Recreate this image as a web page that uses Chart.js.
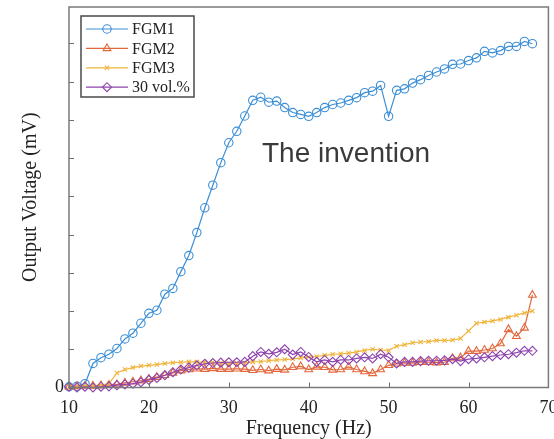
<!DOCTYPE html>
<html>
<head>
<meta charset="utf-8">
<script src="https://cdn.jsdelivr.net/npm/chart.js@4.4.1/dist/chart.umd.min.js"></script>
<style>
  html, body { margin: 0; padding: 0; background: #fff; }
  #wrap { width: 554px; height: 439px; position: relative; }
</style>
</head>
<body>
<div id="wrap"><canvas id="chart"></canvas></div>
<script>
// Frequency (Hz), 1 Hz steps
const freqs = [10,11,12,13,14,15,16,17,18,19,20,21,22,23,24,25,26,27,28,29,30,31,32,33,34,35,36,37,38,39,
               40,41,42,43,44,45,46,47,48,49,50,51,52,53,54,55,56,57,58,59,60,61,62,63,64,65,66,67,68];

// Output voltage (arbitrary units, axis tick = 1)
const fgm1 = [0.02,0.03,0.10,0.63,0.78,0.87,1.02,1.27,1.42,1.68,1.94,2.02,2.44,2.59,3.03,3.45,4.05,4.70,5.29,5.88,
              6.40,6.70,7.10,7.51,7.59,7.46,7.49,7.32,7.19,7.14,7.09,7.19,7.32,7.40,7.44,7.51,7.58,7.71,7.75,7.90,
              7.09,7.77,7.81,7.96,8.05,8.16,8.25,8.33,8.45,8.46,8.55,8.62,8.79,8.75,8.81,8.92,8.92,9.05,8.99];
const fgm2 = [0.02,0.03,0.04,0.04,0.05,0.06,0.08,0.12,0.15,0.18,0.22,0.27,0.32,0.38,0.44,0.47,0.49,0.48,0.50,0.48,
              0.48,0.49,0.48,0.45,0.47,0.44,0.48,0.46,0.53,0.55,0.47,0.54,0.53,0.46,0.47,0.54,0.47,0.42,0.37,0.47,
              0.58,0.62,0.64,0.64,0.66,0.66,0.65,0.66,0.76,0.78,0.95,0.95,0.98,1.02,1.15,1.52,1.34,1.56,2.42];
const fgm3 = [0.02,0.03,0.04,0.05,0.06,0.10,0.38,0.47,0.52,0.56,0.58,0.60,0.63,0.65,0.66,0.67,0.67,0.66,0.66,0.64,
              0.63,0.64,0.65,0.67,0.68,0.70,0.72,0.73,0.75,0.77,0.80,0.81,0.84,0.87,0.88,0.90,0.93,0.97,1.00,0.98,
              0.97,1.08,1.12,1.17,1.19,1.20,1.23,1.23,1.24,1.28,1.48,1.68,1.71,1.74,1.78,1.84,1.89,1.95,2.00];
const vol30 = [0.02,0.00,0.02,0.00,0.02,0.03,0.06,0.08,0.10,0.14,0.20,0.25,0.32,0.40,0.47,0.52,0.58,0.62,0.64,0.65,
               0.66,0.66,0.67,0.82,0.93,0.88,0.92,1.00,0.86,0.93,0.80,0.67,0.72,0.67,0.72,0.72,0.76,0.79,0.76,0.87,
               0.79,0.63,0.67,0.67,0.69,0.70,0.70,0.71,0.74,0.69,0.74,0.76,0.79,0.82,0.85,0.87,0.91,0.96,0.96];

const seriesNames = ["FGM1", "FGM2", "FGM3", "30 vol.%"];
const xTicks = [10, 20, 30, 40, 50, 60, 70];

const serif = "'Liberation Serif', 'Times New Roman', serif";
const colors = ['#3b8ed6', '#e2683c', '#f0b43a', '#8e44ad'];
const styles = ['circle', 'triangle', 'crossRot', 'rectRot'];
const radii = [4.2, 4.5, 3, 4.5];

function toPoints(arr) {
    return freqs.map((f, i) => ({ x: f, y: arr[i] }));
}

const allSeries = [fgm1, fgm2, fgm3, vol30];
const datasets = allSeries.map((arr, i) => ({
    label: seriesNames[i],
    data: toPoints(arr),
    borderColor: colors[i],
    backgroundColor: 'rgba(0,0,0,0)',
    pointBorderColor: colors[i],
    pointBackgroundColor: 'rgba(0,0,0,0)',
    pointStyle: styles[i],
    pointRadius: radii[i],
    pointBorderWidth: 1.1,
    borderWidth: 1.2,
    tension: 0,
    clip: false,
    order: 4 - i
}));

// box, inward ticks, legend and annotation
const decorations = {
    id: 'decorations',
    afterDraw(chart) {
        const { ctx, chartArea: a, scales } = chart;
        ctx.save();
        // inward tick marks
        ctx.strokeStyle = '#6e6e6e';
        ctx.lineWidth = 1;
        ctx.beginPath();
        scales.x.ticks.forEach(t => {
            const px = Math.round(scales.x.getPixelForValue(t.value)) + 0.5;
            ctx.moveTo(px, a.bottom);
            ctx.lineTo(px, a.bottom - 5);
        });
        scales.y.ticks.forEach(t => {
            if (!Number.isInteger(t.value)) return;
            const py = Math.round(scales.y.getPixelForValue(t.value)) + 0.5;
            ctx.moveTo(a.left, py);
            ctx.lineTo(a.left + 5, py);
        });
        ctx.stroke();
        // axes box
        ctx.strokeStyle = '#7a7a7a';
        ctx.lineWidth = 1.5;
        ctx.strokeRect(a.left, a.top, a.right - a.left, a.bottom - a.top);

        // legend
        const lx = 81, ly = 16, lw = 113, lh = 81;
        ctx.fillStyle = '#fff';
        ctx.fillRect(lx, ly, lw, lh);
        ctx.strokeStyle = '#4a4a4a';
        ctx.lineWidth = 1.5;
        ctx.strokeRect(lx, ly, lw, lh);
        ctx.font = '16px ' + serif;
        ctx.textBaseline = 'middle';
        ctx.textAlign = 'left';
        chart.data.datasets.forEach((ds, i) => {
            const y = 29 + i * 19.4;
            ctx.strokeStyle = ds.borderColor;
            ctx.lineWidth = 1.2;
            ctx.beginPath();
            ctx.moveTo(86, y);
            ctx.lineTo(128, y);
            ctx.stroke();
            ctx.lineWidth = 1.1;
            ctx.fillStyle = 'rgba(0,0,0,0)';
            Chart.helpers.drawPoint(ctx, {
                pointStyle: ds.pointStyle,
                radius: ds.pointRadius,
                borderWidth: 1.1,
                rotation: 0
            }, 107, y);
            ctx.fillStyle = '#222';
            ctx.fillText(ds.label, 132, y + 1);
        });

        // annotation
        ctx.fillStyle = '#3a3a3a';
        ctx.font = "28px 'Liberation Sans', Arial, sans-serif";
        ctx.textBaseline = 'alphabetic';
        ctx.fillText('The invention', 262, 162);
        ctx.restore();
    }
};

new Chart(document.getElementById('chart'), {
    type: 'line',
    data: { datasets },
    options: {
        responsive: true,
        maintainAspectRatio: false,
        animation: false,
        layout: { padding: { top: 7, right: 5, left: 0, bottom: 0 } },
        plugins: { legend: { display: false }, tooltip: { enabled: false } },
        scales: {
            x: {
                type: 'linear',
                min: 10,
                max: 70,
                afterBuildTicks: s => { s.ticks = xTicks.map(v => ({ value: v })); },
                afterFit: s => { s.height = 51.5; s.paddingLeft = 0; s.paddingRight = 0; },
                grid: { display: false, drawTicks: false },
                border: { display: false },
                ticks: { color: '#222', font: { family: serif, size: 18 }, padding: 10, maxRotation: 0 },
                title: { display: true, text: 'Frequency (Hz)', color: '#222',
                         font: { family: serif, size: 20, lineHeight: 1 }, padding: 0 }
            },
            y: {
                min: 0,
                max: 9.95,
                afterFit: s => { s.width = 69; s.paddingTop = 0; s.paddingBottom = 0; },
                grid: { display: false, drawTicks: false },
                border: { display: false },
                ticks: { stepSize: 1, color: '#222', font: { family: serif, size: 18 }, padding: 5,
                         callback: v => (v === 0 ? '0' : '') },
                title: { display: true, text: 'Output Voltage (mV)', color: '#222',
                         font: { family: serif, size: 20, lineHeight: 1 }, padding: { top: 21, bottom: 0 } }
            }
        }
    },
    plugins: [decorations]
});
</script>
</body>
</html>
